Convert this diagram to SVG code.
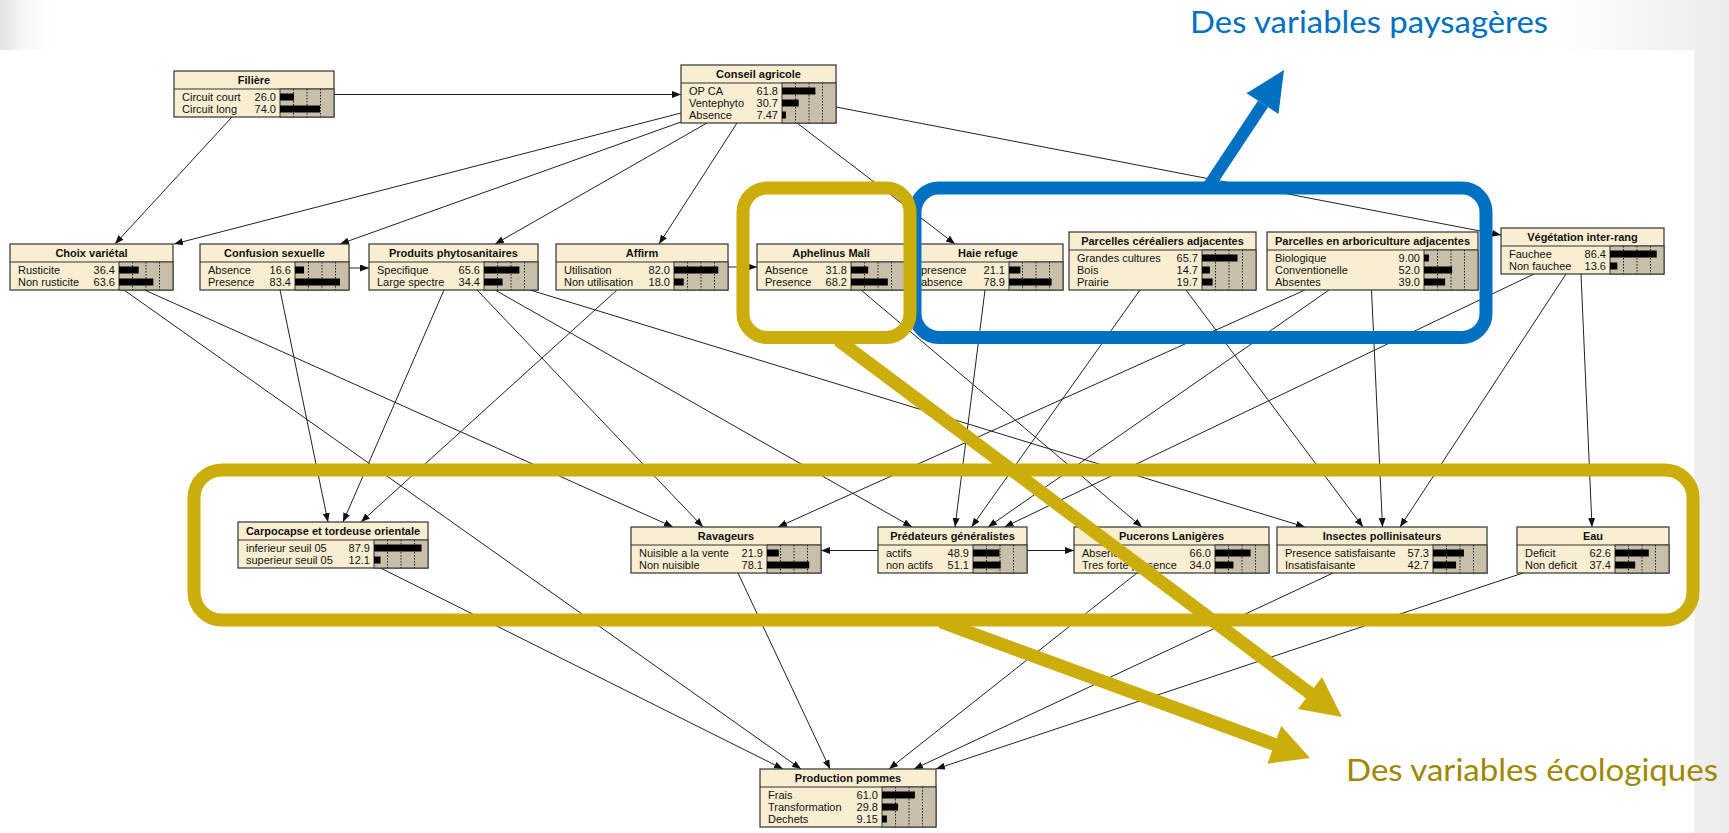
<svg xmlns="http://www.w3.org/2000/svg" width="1729" height="833" viewBox="0 0 1729 833">
<style>
.nb{fill:#faeed2;stroke:#333;stroke-width:1.2}
.pn{fill:#c8bfaa;stroke:#333;stroke-width:1}
.tl{stroke:#333;stroke-width:1}
.dt{stroke:#222;stroke-width:1;stroke-dasharray:1.5,1.5;fill:none}
.bar{fill:#000}
.tt{font-family:"Liberation Sans",Arial,sans-serif;font-size:11px;font-weight:bold;text-anchor:middle;fill:#111}
.st{font-family:"Liberation Sans",Arial,sans-serif;font-size:11px;fill:#111}
.vl{font-family:"Liberation Sans",Arial,sans-serif;font-size:11px;fill:#111;text-anchor:end}
.cn{stroke:#222;stroke-width:1;fill:none;marker-end:url(#ah)}
.yel{fill:none;stroke:#cbad0b;stroke-width:13}
.blu{fill:none;stroke:#0070c0;stroke-width:13}
.lbl{font-family:Lato,"Open Sans",sans-serif;font-size:30px}
</style>
<defs>
<linearGradient id="bg" x1="0" y1="0" x2="1" y2="0">
<stop offset="0" stop-color="#e2e2e2"/>
<stop offset="0.013" stop-color="#f7f7f7"/>
<stop offset="0.03" stop-color="#ffffff"/>
<stop offset="0.9" stop-color="#ffffff"/>
<stop offset="0.965" stop-color="#f2f2f2"/>
<stop offset="1" stop-color="#ebebeb"/>
</linearGradient>
<marker id="ah" markerUnits="userSpaceOnUse" markerWidth="10" markerHeight="8" refX="9" refY="3.5" orient="auto">
<path d="M0,0 L9,3.5 L0,7 z" fill="#111"/>
</marker>
</defs>
<rect x="0" y="0" width="1729" height="833" fill="url(#bg)"/>
<rect x="0" y="50" width="1694" height="783" fill="#ffffff"/>

<g id="connectors">
<path class="cn" d="M334,94.5 L681,94.5"/>
<path class="cn" d="M232,117 L115,244"/>
<path class="cn" d="M681,113 L174,244"/>
<path class="cn" d="M681,122 L340,244"/>
<path class="cn" d="M707,123 L495,244"/>
<path class="cn" d="M737,123 L659,244"/>
<path class="cn" d="M797,123 L955,244"/>
<path class="cn" d="M836,107 L1501,235"/>
<path class="cn" d="M349,268 L369,268"/>
<path class="cn" d="M728,267 L757,267"/>
<path class="cn" d="M124,290 L801,769"/>
<path class="cn" d="M144.5,290 L673,527"/>
<path class="cn" d="M280,290 L328,522"/>
<path class="cn" d="M444,290 L343,522"/>
<path class="cn" d="M617,290 L361,522"/>
<path class="cn" d="M477,290 L703,527"/>
<path class="cn" d="M495,290 L912,527"/>
<path class="cn" d="M530,290 L1305,527"/>
<path class="cn" d="M861,290 L1142,527"/>
<path class="cn" d="M985,290 L955,527"/>
<path class="cn" d="M1140,290 L971.5,527"/>
<path class="cn" d="M1186,290 L1363,527"/>
<path class="cn" d="M1305,290 L778,527"/>
<path class="cn" d="M1329,290 L988,527"/>
<path class="cn" d="M1371.5,290 L1382.5,527"/>
<path class="cn" d="M1534,274 L1004.5,527"/>
<path class="cn" d="M1566,274 L1400,527"/>
<path class="cn" d="M1581,274 L1592,527"/>
<path class="cn" d="M878,550.5 L821,550.5"/>
<path class="cn" d="M1027,550.5 L1074,550.5"/>
<path class="cn" d="M380.5,568 L783,769"/>
<path class="cn" d="M738,573 L830,769"/>
<path class="cn" d="M1137,573 L889,769"/>
<path class="cn" d="M1333,573 L914,769"/>
<path class="cn" d="M1523,573 L936,769"/>
</g>

<g id="n-filiere" transform="translate(174,71)">
<rect class="nb" x="0" y="0" width="160" height="46"/><line class="tl" x1="0" y1="18" x2="160" y2="18"/>
<rect class="pn" x="106" y="18" width="54" height="28"/><path class="dt" d="M119.5,18V46M133,18V46M146.5,18V46"/>
<text class="tt" x="80" y="13">Filière</text>
<text class="st" x="8" y="30">Circuit court</text><text class="vl" x="102" y="30">26.0</text><rect class="bar" x="106" y="22.5" width="14" height="7"/>
<text class="st" x="8" y="42">Circuit long</text><text class="vl" x="102" y="42">74.0</text><rect class="bar" x="106" y="34.5" width="40" height="7"/>
</g>

<g id="n-conseil" transform="translate(681,65)">
<rect class="nb" x="0" y="0" width="155" height="58"/><line class="tl" x1="0" y1="18" x2="155" y2="18"/>
<rect class="pn" x="101" y="18" width="54" height="40"/><path class="dt" d="M114.5,18V58M128,18V58M141.5,18V58"/>
<text class="tt" x="77.5" y="13">Conseil agricole</text>
<text class="st" x="8" y="30">OP CA</text><text class="vl" x="97" y="30">61.8</text><rect class="bar" x="101" y="22.5" width="33.4" height="7"/>
<text class="st" x="8" y="42">Ventephyto</text><text class="vl" x="97" y="42">30.7</text><rect class="bar" x="101" y="34.5" width="16.6" height="7"/>
<text class="st" x="8" y="54">Absence</text><text class="vl" x="97" y="54">7.47</text><rect class="bar" x="101" y="46.5" width="4" height="7"/>
</g>

<g id="n-choix" transform="translate(10,244)">
<rect class="nb" x="0" y="0" width="163" height="46"/><line class="tl" x1="0" y1="18" x2="163" y2="18"/>
<rect class="pn" x="109" y="18" width="54" height="28"/><path class="dt" d="M122.5,18V46M136,18V46M149.5,18V46"/>
<text class="tt" x="81.5" y="13">Choix variétal</text>
<text class="st" x="8" y="30">Rusticite</text><text class="vl" x="105" y="30">36.4</text><rect class="bar" x="109" y="22.5" width="19.7" height="7"/>
<text class="st" x="8" y="42">Non rusticite</text><text class="vl" x="105" y="42">63.6</text><rect class="bar" x="109" y="34.5" width="34.3" height="7"/>
</g>

<g id="n-confusion" transform="translate(200,244)">
<rect class="nb" x="0" y="0" width="149" height="46"/><line class="tl" x1="0" y1="18" x2="149" y2="18"/>
<rect class="pn" x="95" y="18" width="54" height="28"/><path class="dt" d="M108.5,18V46M122,18V46M135.5,18V46"/>
<text class="tt" x="74.5" y="13">Confusion sexuelle</text>
<text class="st" x="8" y="30">Absence</text><text class="vl" x="91" y="30">16.6</text><rect class="bar" x="95" y="22.5" width="9" height="7"/>
<text class="st" x="8" y="42">Presence</text><text class="vl" x="91" y="42">83.4</text><rect class="bar" x="95" y="34.5" width="45" height="7"/>
</g>

<g id="n-produits" transform="translate(369,244)">
<rect class="nb" x="0" y="0" width="169" height="46"/><line class="tl" x1="0" y1="18" x2="169" y2="18"/>
<rect class="pn" x="115" y="18" width="54" height="28"/><path class="dt" d="M128.5,18V46M142,18V46M155.5,18V46"/>
<text class="tt" x="84.5" y="13">Produits phytosanitaires</text>
<text class="st" x="8" y="30">Specifique</text><text class="vl" x="111" y="30">65.6</text><rect class="bar" x="115" y="22.5" width="35.4" height="7"/>
<text class="st" x="8" y="42">Large spectre</text><text class="vl" x="111" y="42">34.4</text><rect class="bar" x="115" y="34.5" width="18.6" height="7"/>
</g>

<g id="n-affirm" transform="translate(556,244)">
<rect class="nb" x="0" y="0" width="172" height="46"/><line class="tl" x1="0" y1="18" x2="172" y2="18"/>
<rect class="pn" x="118" y="18" width="54" height="28"/><path class="dt" d="M131.5,18V46M145,18V46M158.5,18V46"/>
<text class="tt" x="86" y="13">Affirm</text>
<text class="st" x="8" y="30">Utilisation</text><text class="vl" x="114" y="30">82.0</text><rect class="bar" x="118" y="22.5" width="44.3" height="7"/>
<text class="st" x="8" y="42">Non utilisation</text><text class="vl" x="114" y="42">18.0</text><rect class="bar" x="118" y="34.5" width="9.7" height="7"/>
</g>

<g id="n-aphelinus" transform="translate(757,244)">
<rect class="nb" x="0" y="0" width="148" height="46"/><line class="tl" x1="0" y1="18" x2="148" y2="18"/>
<rect class="pn" x="94" y="18" width="54" height="28"/><path class="dt" d="M107.5,18V46M121,18V46M134.5,18V46"/>
<text class="tt" x="74" y="13">Aphelinus Mali</text>
<text class="st" x="8" y="30">Absence</text><text class="vl" x="90" y="30">31.8</text><rect class="bar" x="94" y="22.5" width="17.2" height="7"/>
<text class="st" x="8" y="42">Presence</text><text class="vl" x="90" y="42">68.2</text><rect class="bar" x="94" y="34.5" width="36.8" height="7"/>
</g>

<g id="n-haie" transform="translate(913,244)">
<rect class="nb" x="0" y="0" width="150" height="46"/><line class="tl" x1="0" y1="18" x2="150" y2="18"/>
<rect class="pn" x="96" y="18" width="54" height="28"/><path class="dt" d="M109.5,18V46M123,18V46M136.5,18V46"/>
<text class="tt" x="75" y="13">Haie refuge</text>
<text class="st" x="8" y="30">presence</text><text class="vl" x="92" y="30">21.1</text><rect class="bar" x="96" y="22.5" width="11.4" height="7"/>
<text class="st" x="8" y="42">absence</text><text class="vl" x="92" y="42">78.9</text><rect class="bar" x="96" y="34.5" width="42.6" height="7"/>
</g>

<g id="n-cerealiers" transform="translate(1069,232)">
<rect class="nb" x="0" y="0" width="187" height="58"/><line class="tl" x1="0" y1="18" x2="187" y2="18"/>
<rect class="pn" x="133" y="18" width="54" height="40"/><path class="dt" d="M146.5,18V58M160,18V58M173.5,18V58"/>
<text class="tt" x="93.5" y="13">Parcelles céréaliers adjacentes</text>
<text class="st" x="8" y="30">Grandes cultures</text><text class="vl" x="129" y="30">65.7</text><rect class="bar" x="133" y="22.5" width="35.5" height="7"/>
<text class="st" x="8" y="42">Bois</text><text class="vl" x="129" y="42">14.7</text><rect class="bar" x="133" y="34.5" width="7.9" height="7"/>
<text class="st" x="8" y="54">Prairie</text><text class="vl" x="129" y="54">19.7</text><rect class="bar" x="133" y="46.5" width="10.6" height="7"/>
</g>

<g id="n-arboriculture" transform="translate(1267,232)">
<rect class="nb" x="0" y="0" width="211" height="58"/><line class="tl" x1="0" y1="18" x2="211" y2="18"/>
<rect class="pn" x="157" y="18" width="54" height="40"/><path class="dt" d="M170.5,18V58M184,18V58M197.5,18V58"/>
<text class="tt" x="105.5" y="13">Parcelles en arboriculture adjacentes</text>
<text class="st" x="8" y="30">Biologique</text><text class="vl" x="153" y="30">9.00</text><rect class="bar" x="157" y="22.5" width="4.9" height="7"/>
<text class="st" x="8" y="42">Conventionelle</text><text class="vl" x="153" y="42">52.0</text><rect class="bar" x="157" y="34.5" width="28.1" height="7"/>
<text class="st" x="8" y="54">Absentes</text><text class="vl" x="153" y="54">39.0</text><rect class="bar" x="157" y="46.5" width="21.1" height="7"/>
</g>

<g id="n-vegetation" transform="translate(1501,228)">
<rect class="nb" x="0" y="0" width="163" height="46"/><line class="tl" x1="0" y1="18" x2="163" y2="18"/>
<rect class="pn" x="109" y="18" width="54" height="28"/><path class="dt" d="M122.5,18V46M136,18V46M149.5,18V46"/>
<text class="tt" x="81.5" y="13">Végétation inter-rang</text>
<text class="st" x="8" y="30">Fauchee</text><text class="vl" x="105" y="30">86.4</text><rect class="bar" x="109" y="22.5" width="46.7" height="7"/>
<text class="st" x="8" y="42">Non fauchee</text><text class="vl" x="105" y="42">13.6</text><rect class="bar" x="109" y="34.5" width="7.3" height="7"/>
</g>

<g id="n-carpocapse" transform="translate(238,522)">
<rect class="nb" x="0" y="0" width="190" height="46"/><line class="tl" x1="0" y1="18" x2="190" y2="18"/>
<rect class="pn" x="136" y="18" width="54" height="28"/><path class="dt" d="M149.5,18V46M163,18V46M176.5,18V46"/>
<text class="tt" x="95" y="13">Carpocapse et tordeuse orientale</text>
<text class="st" x="8" y="30">inferieur seuil 05</text><text class="vl" x="132" y="30">87.9</text><rect class="bar" x="136" y="22.5" width="47.5" height="7"/>
<text class="st" x="8" y="42">superieur seuil 05</text><text class="vl" x="132" y="42">12.1</text><rect class="bar" x="136" y="34.5" width="6.5" height="7"/>
</g>

<g id="n-ravageurs" transform="translate(631,527)">
<rect class="nb" x="0" y="0" width="190" height="46"/><line class="tl" x1="0" y1="18" x2="190" y2="18"/>
<rect class="pn" x="136" y="18" width="54" height="28"/><path class="dt" d="M149.5,18V46M163,18V46M176.5,18V46"/>
<text class="tt" x="95" y="13">Ravageurs</text>
<text class="st" x="8" y="30">Nuisible a la vente</text><text class="vl" x="132" y="30">21.9</text><rect class="bar" x="136" y="22.5" width="11.8" height="7"/>
<text class="st" x="8" y="42">Non nuisible</text><text class="vl" x="132" y="42">78.1</text><rect class="bar" x="136" y="34.5" width="42.2" height="7"/>
</g>

<g id="n-predateurs" transform="translate(878,527)">
<rect class="nb" x="0" y="0" width="149" height="46"/><line class="tl" x1="0" y1="18" x2="149" y2="18"/>
<rect class="pn" x="95" y="18" width="54" height="28"/><path class="dt" d="M108.5,18V46M122,18V46M135.5,18V46"/>
<text class="tt" x="74.5" y="13">Prédateurs généralistes</text>
<text class="st" x="8" y="30">actifs</text><text class="vl" x="91" y="30">48.9</text><rect class="bar" x="95" y="22.5" width="26.4" height="7"/>
<text class="st" x="8" y="42">non actifs</text><text class="vl" x="91" y="42">51.1</text><rect class="bar" x="95" y="34.5" width="27.6" height="7"/>
</g>

<g id="n-pucerons" transform="translate(1074,527)">
<rect class="nb" x="0" y="0" width="195" height="46"/><line class="tl" x1="0" y1="18" x2="195" y2="18"/>
<rect class="pn" x="141" y="18" width="54" height="28"/><path class="dt" d="M154.5,18V46M168,18V46M181.5,18V46"/>
<text class="tt" x="97.5" y="13">Pucerons Lanigères</text>
<text class="st" x="8" y="30">Absence</text><text class="vl" x="137" y="30">66.0</text><rect class="bar" x="141" y="22.5" width="35.6" height="7"/>
<text class="st" x="8" y="42">Tres forte presence</text><text class="vl" x="137" y="42">34.0</text><rect class="bar" x="141" y="34.5" width="18.4" height="7"/>
</g>

<g id="n-insectes" transform="translate(1277,527)">
<rect class="nb" x="0" y="0" width="210" height="46"/><line class="tl" x1="0" y1="18" x2="210" y2="18"/>
<rect class="pn" x="156" y="18" width="54" height="28"/><path class="dt" d="M169.5,18V46M183,18V46M196.5,18V46"/>
<text class="tt" x="105" y="13">Insectes pollinisateurs</text>
<text class="st" x="8" y="30">Presence satisfaisante</text><text class="vl" x="152" y="30">57.3</text><rect class="bar" x="156" y="22.5" width="30.9" height="7"/>
<text class="st" x="8" y="42">Insatisfaisante</text><text class="vl" x="152" y="42">42.7</text><rect class="bar" x="156" y="34.5" width="23.1" height="7"/>
</g>

<g id="n-eau" transform="translate(1517,527)">
<rect class="nb" x="0" y="0" width="152" height="46"/><line class="tl" x1="0" y1="18" x2="152" y2="18"/>
<rect class="pn" x="98" y="18" width="54" height="28"/><path class="dt" d="M111.5,18V46M125,18V46M138.5,18V46"/>
<text class="tt" x="76" y="13">Eau</text>
<text class="st" x="8" y="30">Deficit</text><text class="vl" x="94" y="30">62.6</text><rect class="bar" x="98" y="22.5" width="33.8" height="7"/>
<text class="st" x="8" y="42">Non deficit</text><text class="vl" x="94" y="42">37.4</text><rect class="bar" x="98" y="34.5" width="20.2" height="7"/>
</g>

<g id="n-production" transform="translate(760,769)">
<rect class="nb" x="0" y="0" width="176" height="58"/><line class="tl" x1="0" y1="18" x2="176" y2="18"/>
<rect class="pn" x="122" y="18" width="54" height="40"/><path class="dt" d="M135.5,18V58M149,18V58M162.5,18V58"/>
<text class="tt" x="88" y="13">Production pommes</text>
<text class="st" x="8" y="30">Frais</text><text class="vl" x="118" y="30">61.0</text><rect class="bar" x="122" y="22.5" width="32.9" height="7"/>
<text class="st" x="8" y="42">Transformation</text><text class="vl" x="118" y="42">29.8</text><rect class="bar" x="122" y="34.5" width="16.1" height="7"/>
<text class="st" x="8" y="54">Dechets</text><text class="vl" x="118" y="54">9.15</text><rect class="bar" x="122" y="46.5" width="4.9" height="7"/>
</g>

<g id="landscape-group">
<rect class="blu" x="915" y="188" width="571" height="149.5" rx="24"/>
<path d="M1206,190 L1263,104" stroke="#0070c0" stroke-width="12" fill="none"/>
<path d="M1284,70 L1278.5,114 L1246.5,93.3 z" fill="#0070c0"/>
</g>

<g id="ecology-group">
<rect class="yel" x="194" y="470" width="1499" height="150" rx="28"/>
<rect class="yel" x="743" y="188" width="167" height="149.5" rx="24"/>
<path d="M838,340 L1311,694" stroke="#cbad0b" stroke-width="13" fill="none"/>
<path d="M1342,717 L1322,677 L1298,709 z" fill="#cbad0b"/>
<path d="M941,622 L1276,745" stroke="#cbad0b" stroke-width="13" fill="none"/>
<path d="M1310,758 L1281.2,726 L1267.4,763.7 z" fill="#cbad0b"/>
</g>

<text class="lbl" x="1190" y="33" fill="#0070c0" textLength="358" lengthAdjust="spacingAndGlyphs">Des variables paysagères</text>
<text class="lbl" x="1346" y="781" fill="#9e8800" textLength="372" lengthAdjust="spacingAndGlyphs">Des variables écologiques</text>
</svg>
